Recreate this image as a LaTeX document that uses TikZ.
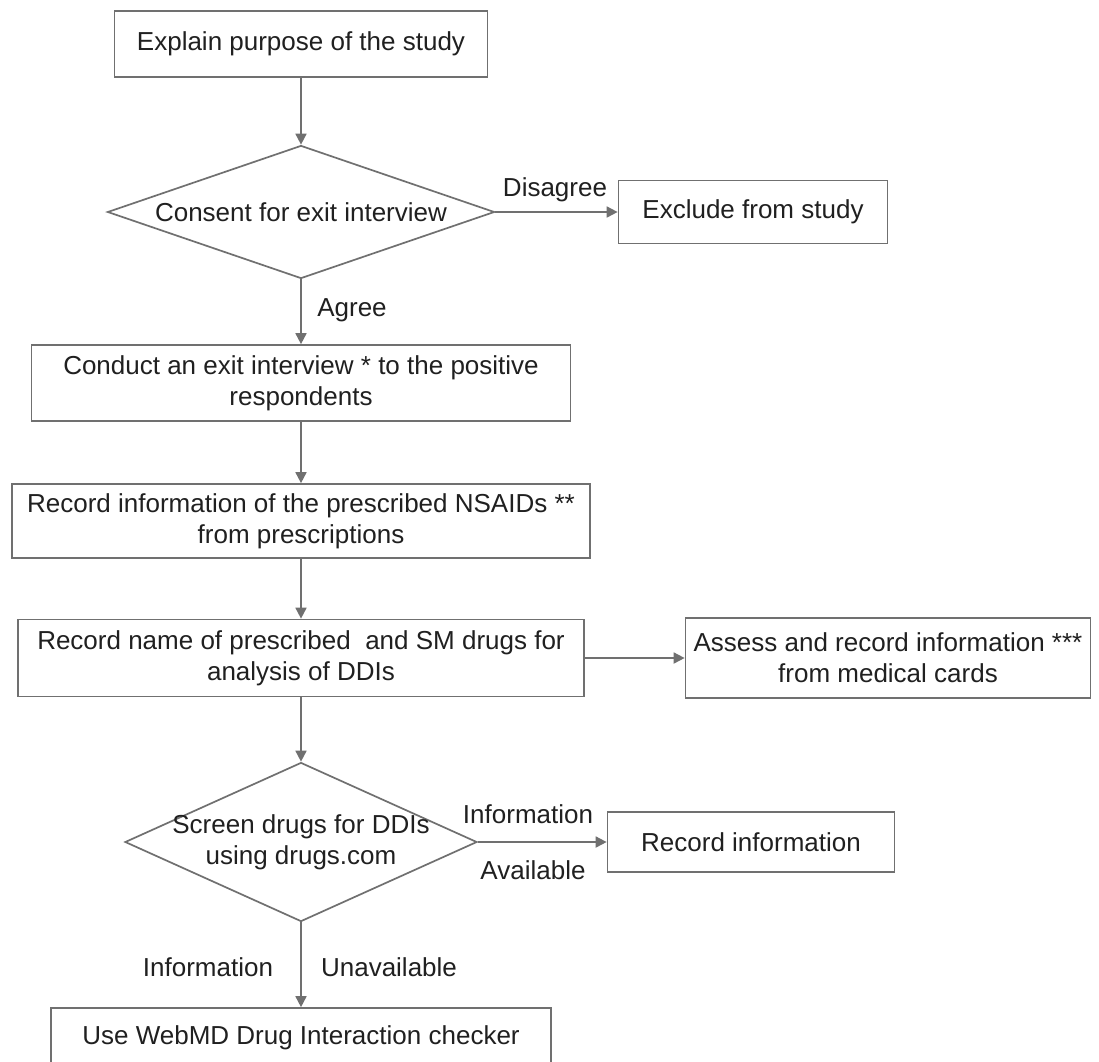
\documentclass[tikz,border=0pt]{standalone}
\usepackage{fontspec}
\setmainfont{Liberation Sans}
\usetikzlibrary{arrows.meta,shapes.geometric}
\definecolor{lc}{HTML}{707070}
\definecolor{tc}{HTML}{202020}
\newcommand\fsz{\fontsize{26pt}{31pt}\selectfont}
\tikzset{
  box/.style={draw=lc, line width=1.7pt, fill=white, inner sep=0pt, align=center, font=\fsz, text=tc},
  dia/.style={draw=lc, line width=1.7pt, fill=white, shape=diamond, inner sep=0pt},
  txt/.style={inner sep=0pt, align=center, font=\fsz, text=tc},
  arr/.style={draw=lc, line width=1.7pt, -{Triangle[length=11pt,width=11pt]}},
}
\begin{document}
\begin{tikzpicture}[x=1pt,y=-1pt]
\useasboundingbox (0,0) rectangle (1099,1061);
\fill[white] (0,0) rectangle (1099,1061);
\clip (0,0) rectangle (1099,1061);
% boxes
\node[box, minimum width=373pt, minimum height=66pt] (b1) at (301,44) {Explain purpose of the study};
\node[dia, minimum width=387pt, minimum height=133pt] (d1) at (301,212) {};
\node[txt] (d1t) at (d1.center) {Consent for exit interview};
\node[box, minimum width=269pt, minimum height=63pt] (ex) at (753,212) {Exclude from study};
\node[box, minimum width=539pt, minimum height=76pt] (ci) at (301,383) {Conduct an exit interview * to the positive\\respondents};
\node[box, minimum width=578pt, minimum height=74pt] (ns) at (301,521) {Record information of the prescribed NSAIDs **\\from prescriptions};
\node[box, minimum width=566pt, minimum height=77pt] (rn) at (301,658) {Record name of prescribed \ and SM drugs for\\analysis of DDIs};
\node[box, minimum width=405pt, minimum height=80pt] (as) at (888,658) {Assess and record information ***\\from medical cards};
\node[dia, minimum width=352pt, minimum height=159pt] (d2) at (301,842) {};
\node[txt] (d2t) at (d2.center) {Screen drugs for DDIs\\using drugs.com};
\node[box, minimum width=287pt, minimum height=60pt] (ri) at (751,842) {Record information};
\node[box, minimum width=500pt, minimum height=60pt] (wm) at (301,1038) {Use WebMD Drug Interaction checker};
% connectors
\draw[arr] (b1.south) -- (d1.north);
\draw[arr] (d1.east) -- (ex.west);
\draw[arr] (d1.south) -- (ci.north);
\draw[arr] (ci.south) -- (ns.north);
\draw[arr] (ns.south) -- (rn.north);
\draw[arr] (rn.east) -- (as.west);
\draw[arr] (rn.south) -- (d2.north);
\draw[arr] (d2.east) -- (ri.west);
\draw[arr] (d2.south) -- (wm.north);
% labels
\node[txt] (l1) at (555,190) {Disagree};
\node[txt] (l2) at (352,310) {Agree};
\node[txt] (l3) at (528,814) {Information};
\node[txt] (l4) at (533,870) {Available};
\node[txt] (l5) at (208,967) {Information};
\node[txt] (l6) at (389,967) {Unavailable};
\end{tikzpicture}
\end{document}
